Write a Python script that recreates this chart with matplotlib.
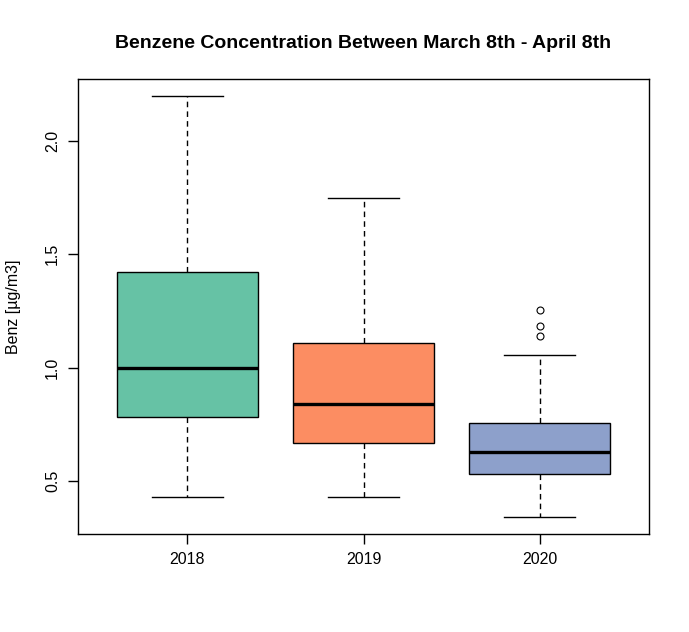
import matplotlib
matplotlib.use('Agg')
import matplotlib.pyplot as plt

plt.rcParams['font.family'] = ['Liberation Sans', 'DejaVu Sans']

years = ['2018', '2019', '2020']
whislo = [0.428, 0.430, 0.340]
q1 = [0.784, 0.668, 0.529]
med = [0.997, 0.838, 0.629]
q3 = [1.423, 1.107, 0.754]
whishi = [2.199, 1.748, 1.057]
fliers = [[], [], [1.253, 1.183, 1.138]]
colors = ['#66C2A5', '#FC8D62', '#8DA0CB']

stats = []
for i, y in enumerate(years):
    stats.append({'label': y, 'whislo': whislo[i], 'q1': q1[i], 'med': med[i],
                  'q3': q3[i], 'whishi': whishi[i], 'fliers': fliers[i]})

fig = plt.figure(figsize=(6.89, 6.32), dpi=100)
ax = fig.add_axes([78/689, 1-534/632, (649-78)/689, (534-79)/632])

bp = ax.bxp(stats, positions=[1, 2, 3], widths=0.8, patch_artist=True,
            showfliers=True,
            boxprops=dict(linewidth=1, edgecolor='black'),
            medianprops=dict(color='black', linewidth=2.4),
            whiskerprops=dict(color='black', linewidth=1, linestyle=(0, (4, 3))),
            capprops=dict(color='black', linewidth=1),
            capwidths=0.4,
            flierprops=dict(marker='o', markerfacecolor='none', markeredgecolor='black',
                            markersize=5, markeredgewidth=0.8))
for patch, c in zip(bp['boxes'], colors):
    patch.set_facecolor(c)

# R style 4% padding
lo = min(whislo)
hi = max(whishi)
pad = (hi - lo) * 0.04
ax.set_ylim(lo - pad, hi + pad)
ax.set_xlim(0.38, 3.62)

ax.set_yticks([0.5, 1.0, 1.5, 2.0])
ax.set_yticklabels(['0.5', '1.0', '1.5', '2.0'], rotation=90, va='center')
ax.set_xticks([1, 2, 3])
ax.set_xticklabels(years)
ax.tick_params(direction='out', length=7, width=1, labelsize=11.5, pad=6)
for s in ax.spines.values():
    s.set_linewidth(1)

ax.set_ylabel('Benz [µg/m3]', fontsize=11.5, labelpad=17)
ax.set_title('Benzene Concentration Between March 8th - April 8th',
             fontsize=14, fontweight='bold', pad=22)

fig.savefig('out.png', dpi=100)
